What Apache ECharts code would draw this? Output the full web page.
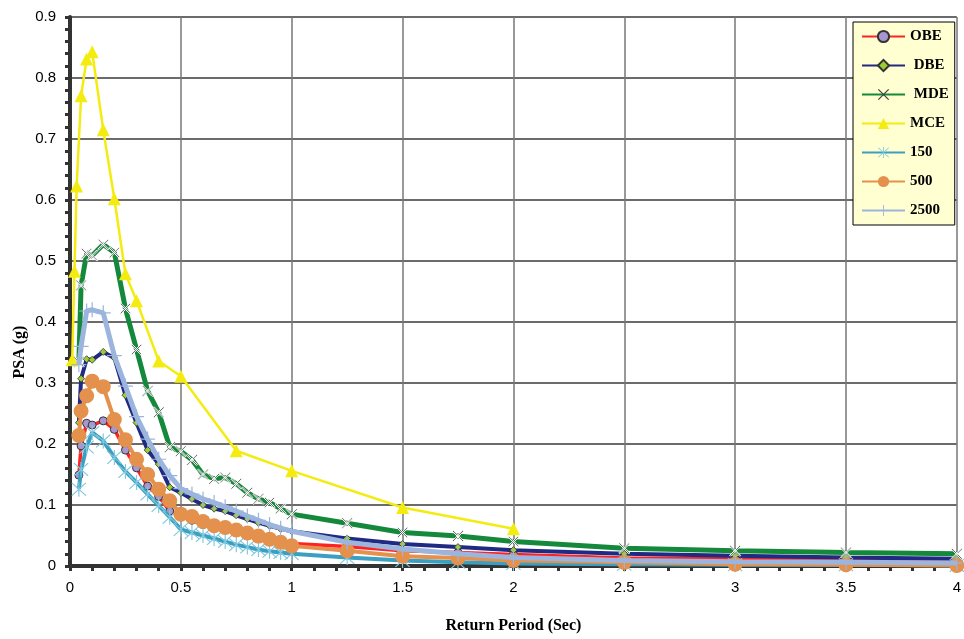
<!DOCTYPE html>
<html><head><meta charset="utf-8">
<script src="https://cdn.jsdelivr.net/npm/echarts@6/dist/echarts.min.js"></script>
<style>html,body{margin:0;padding:0;background:#fff}#c{width:964px;height:639px}</style>
</head><body><div id="c"></div>
<script>
// Periods (sec)
const periods = [0.04,0.05,0.075,0.1,0.15,0.2,0.25,0.3,0.35,0.4,0.45,0.5,0.55,0.6,0.65,0.7,0.75,0.8,0.85,0.9,0.95,1.0,1.25,1.5,1.75,2.0,2.5,3.0,3.5,4.0];
const mcePeriods = [0.01,0.02,0.03,0.05,0.075,0.1,0.15,0.2,0.25,0.3,0.4,0.5,0.75,1.0,1.5,2.0];
// PSA (g)
const obe = [0.149,0.197,0.234,0.231,0.238,0.224,0.19,0.161,0.131,0.114,0.09,0.082,0.075,0.068,0.063,0.059,0.055,0.051,0.047,0.043,0.04,0.037,0.032,0.025,0.022,0.019,0.013,0.012,0.009,0.008];
const dbe = [0.235,0.307,0.339,0.338,0.351,0.341,0.28,0.235,0.19,0.167,0.129,0.12,0.11,0.1,0.094,0.09,0.083,0.077,0.071,0.066,0.061,0.057,0.045,0.036,0.031,0.026,0.02,0.017,0.014,0.012];
const mde = [0.335,0.46,0.512,0.509,0.527,0.514,0.422,0.355,0.287,0.252,0.195,0.188,0.174,0.15,0.143,0.145,0.135,0.12,0.11,0.104,0.094,0.085,0.07,0.055,0.049,0.04,0.029,0.025,0.022,0.02];
const mce = [0.338,0.483,0.623,0.771,0.831,0.843,0.715,0.602,0.479,0.435,0.336,0.311,0.189,0.156,0.096,0.061];
const s150 = [0.126,0.158,0.195,0.219,0.205,0.178,0.155,0.137,0.118,0.099,0.08,0.06,0.055,0.05,0.045,0.04,0.035,0.031,0.027,0.024,0.022,0.02,0.014,0.009,0.006,0.004,0.003,0.002,0.002,0.001];
const s500 = [0.214,0.254,0.279,0.303,0.294,0.24,0.207,0.175,0.15,0.126,0.107,0.085,0.081,0.073,0.066,0.063,0.059,0.054,0.049,0.044,0.039,0.033,0.025,0.016,0.013,0.009,0.006,0.003,0.002,0.001];
const s2500 = [0.33,0.36,0.418,0.42,0.415,0.345,0.295,0.245,0.208,0.175,0.148,0.127,0.118,0.11,0.104,0.097,0.09,0.082,0.075,0.068,0.062,0.057,0.039,0.028,0.02,0.014,0.009,0.007,0.006,0.005];
const seriesNames = ['OBE',' DBE',' MDE','MCE','150','500','2500'];

const pair = (xs, ys) => xs.map((t, i) => [t, ys[i]]);
const X_PATH = 'path://M0,1.6 L1.6,0 L20,18.4 L18.4,20 Z M18.4,0 L20,1.6 L1.6,20 L0,18.4 Z';
const PLUS_PATH = 'path://M9.2,0 H10.8 V9.2 H20 V10.8 H10.8 V20 H9.2 V10.8 H0 V9.2 H9.2 Z';
const STAR_PATH = 'path://M9.3,0 H10.7 V20 H9.3 Z M1,2 L2,1 L19,18 L18,19 Z M18,1 L19,2 L2,19 L1,18 Z';

const chart = echarts.init(document.getElementById('c'), null, {renderer: 'canvas'});
const serif = 'Liberation Serif, Times New Roman, serif';
const sans = 'Liberation Sans, Arial, sans-serif';

chart.setOption({
  animation: false,
  backgroundColor: '#fff',
  grid: {left: 70, right: 2, top: 17, bottom: 72},
  xAxis: {
    type: 'value', min: 0, max: 4, interval: 0.5,
    name: 'Return Period (Sec)', nameLocation: 'middle', nameGap: 52,
    nameTextStyle: {fontFamily: serif, fontWeight: 'bold', fontSize: 16, color: '#000'},
    axisLine: {show: true, onZero: false, lineStyle: {color: '#333', width: 4}},
    axisTick: {show: true, length: 5, lineStyle: {color: '#333', width: 3}},
    minorTick: {show: true, splitNumber: 5, length: 5, lineStyle: {color: '#333', width: 3}},
    axisLabel: {fontFamily: sans, fontSize: 15, color: '#000', margin: 14},
    splitLine: {show: true, lineStyle: {color: '#777', width: 1.5}}
  },
  yAxis: {
    type: 'value', min: 0, max: 0.9, interval: 0.1,
    axisLine: {show: true, lineStyle: {color: '#333', width: 4}},
    axisTick: {show: true, length: 5, lineStyle: {color: '#333', width: 3}},
    minorTick: {show: true, splitNumber: 5, length: 5, lineStyle: {color: '#333', width: 3}},
    axisLabel: {fontFamily: sans, fontSize: 15, color: '#000', margin: 14},
    splitLine: {show: true, lineStyle: {color: '#3a3a3a', width: 1.5}}
  },
  graphic: [{
    type: 'text', x: 20, y: 352, rotation: Math.PI / 2,
    style: {text: 'PSA (g)', fontFamily: serif, fontWeight: 'bold', fontSize: 16, fill: '#000', align: 'center', verticalAlign: 'middle'}
  }],
  legend: {
    orient: 'vertical', left: 853, top: 22, width: 107,
    backgroundColor: '#ffffd2', borderColor: '#000', borderWidth: 1,
    padding: [7, 6, 7, 8], itemWidth: 43, itemHeight: 14, itemGap: 14,
    textStyle: {fontFamily: serif, fontWeight: 'bold', fontSize: 15, color: '#000'},
    data: seriesNames.map((n, i) => i === 2 ? {name: n, itemStyle: {color: '#444', borderWidth: 0}} : n)
  },
  series: [
    {name: seriesNames[0], type: 'line', data: pair(periods, obe), z: 2,
     lineStyle: {color: '#ff2222', width: 3.5}, itemStyle: {color: '#a896d0', borderColor: '#333', borderWidth: 1},
     symbol: 'circle', symbolSize: 8},
    {name: seriesNames[1], type: 'line', data: pair(periods, dbe), z: 3,
     lineStyle: {color: '#202a82', width: 4}, itemStyle: {color: '#9acd32', borderColor: '#333', borderWidth: 0.8},
     symbol: 'diamond', symbolSize: 7},
    {name: seriesNames[2], type: 'line', data: pair(periods, mde), z: 4,
     lineStyle: {color: '#14893c', width: 5}, itemStyle: {color: '#444', borderColor: '#fff', borderWidth: 1},
     symbol: X_PATH, symbolSize: 11},
    {name: seriesNames[3], type: 'line', data: pair(mcePeriods, mce), z: 5,
     lineStyle: {color: '#f4ec10', width: 2.5}, itemStyle: {color: '#f4ec10'},
     symbol: 'triangle', symbolSize: 13},
    {name: seriesNames[4], type: 'line', data: pair(periods, s150), z: 6,
     lineStyle: {color: '#3a9fc0', width: 4}, itemStyle: {color: '#80c8e0'},
     symbol: STAR_PATH, symbolSize: 15},
    {name: seriesNames[5], type: 'line', data: pair(periods, s500), z: 7,
     lineStyle: {color: '#e3914c', width: 4}, itemStyle: {color: '#e3914c'},
     symbol: 'circle', symbolSize: 15},
    {name: seriesNames[6], type: 'line', data: pair(periods, s2500), z: 8,
     lineStyle: {color: '#9bb5de', width: 5}, itemStyle: {color: '#9bb5de'},
     symbol: PLUS_PATH, symbolSize: 15}
  ]
});
</script>
</body></html>
